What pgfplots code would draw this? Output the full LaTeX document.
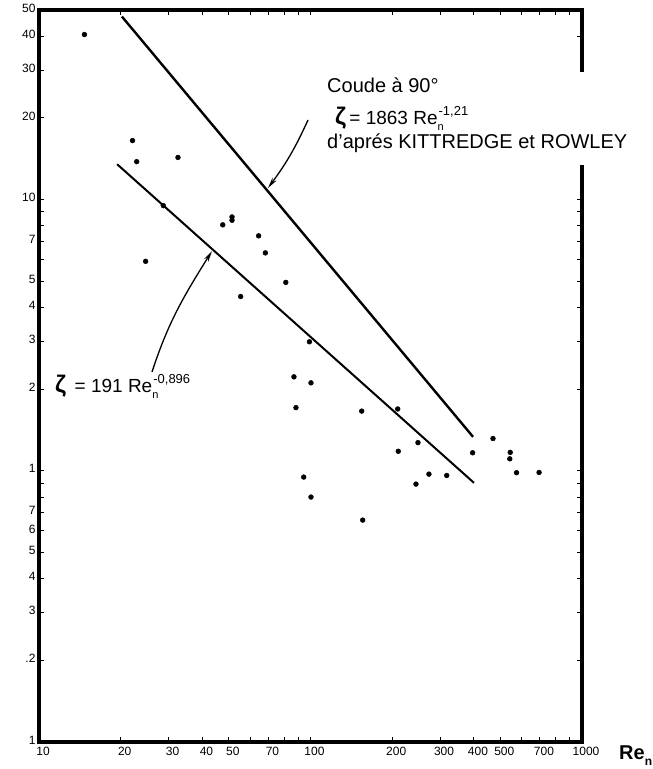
\documentclass[border=0pt]{standalone}
\usepackage{pgfplots}
\pgfplotsset{compat=1.18}
\usepackage{fontspec}
\setmainfont{Liberation Sans}
\usetikzlibrary{arrows.meta}
% Re with subscript n and an exponent
\newcommand\Ren[1]{Re\rlap{\raisebox{-0.3em}{\fontsize{11}{11}\selectfont n}}\raisebox{0.5em}{\fontsize{13}{13}\selectfont\kern1pt #1}}
\newcommand\zt{{\fontsize{24}{24}\selectfont\bfseries ζ}}

\begin{document}
\begin{tikzpicture}[x=1pt,y=1pt]
\path[use as bounding box] (-39,-27) rectangle (614,742);
\begin{axis}[at={(0,0)},anchor=south west,scale only axis,
  width=543pt,height=732pt,
  xmode=log,ymode=log,
  xmin=10,xmax=1000,ymin=0.1,ymax=50,
  tick style={line width=1pt,black},
  major tick length=5pt,
  tick label style={font=\fontsize{12}{12}\selectfont},
  /pgf/number format/assume math mode=true,
  xtick={10,20,30,40,50,60,70,80,90,100,200,300,400,500,600,700,800,900,1000},
  xticklabels={10,20,30,40,50,,70,,,100,200,300,400,500,,700,,,1000},
  ytick={0.1,0.2,0.3,0.4,0.5,0.6,0.7,0.8,0.9,1,2,3,4,5,6,7,8,9,10,20,30,40,50},
  yticklabels={1,.2,3,4,5,6,7,,,1,2,3,4,5,,7,,,10,20,30,40,50},
  minor tick num=0,
  xticklabel style={yshift=-2pt,xshift=4pt},
  yticklabel style={yshift=2pt},
  clip=false]
% measured points
\addplot[only marks,mark=*,mark size=2.4pt,line width=0.5pt,black] coordinates {
(14.7,40.6) (22.1,16.5) (22.9,13.8) (32.5,14.3) (28.7,9.5) (24.7,5.92)
(47.5,8.07) (51.4,8.63) (51.4,8.39) (55.3,4.39) (64.4,7.35) (68.2,6.36)
(81.1,4.95) (99.1,2.99) (86.9,2.22) (100.4,2.11) (88.4,1.71) (94.4,0.948)
(100.4,0.80) (154.4,1.66) (155.7,0.658) (209.5,1.69) (210.5,1.18)
(248.8,1.27) (244.6,0.893) (273,0.972) (317.5,0.961) (395.5,1.165)
(470,1.315) (544,1.169) (542,1.107) (574,0.984) (695,0.986)};
% Kittredge and Rowley
\addplot[line width=2.4pt,black] coordinates {(20.2,47.3) (397,1.334)};
% fitted line
\addplot[line width=2pt,black] coordinates {(19.4,13.5) (400,0.903)};
\end{axis}
% heavy frame, with a gap in the right side behind the label
\fill[white] (535,575) rectangle (553,672);
\draw[line width=3.2pt,line cap=rect] (543,672) -- (543,732) -- (0,732) -- (0,0) -- (543,0) -- (543,575);
\node[anchor=base west,inner sep=0pt,font=\fontsize{20}{20}\selectfont] at (288,649) {Coude à 90°};
\node[anchor=base west,inner sep=0pt,font=\fontsize{19}{19}\selectfont] at (296,617) {\zt\,= 1863 \Ren{-1,21}};
\node[anchor=base west,inner sep=0pt,font=\fontsize{20}{20}\selectfont] at (288,593) {d'aprés KITTREDGE et ROWLEY};
\node[anchor=base west,inner sep=0pt,font=\fontsize{19}{19}\selectfont] at (16,349) {\zt\, = 191 \Ren{-0,896}};
\node[anchor=base west,inner sep=0pt,font=\fontsize{20}{20}\selectfont\bfseries] at (580,-17) {Re\raisebox{-0.3em}{\fontsize{12}{12}\selectfont n}};
% arrows
\draw[line width=1.3pt,-{Stealth[length=11pt,width=5pt]}] (269,622) to[bend left=6] (229,554);
\draw[line width=1.3pt,-{Stealth[length=11pt,width=5pt]}] (113,370) to[out=72,in=238] (173,491);
\end{tikzpicture}
\end{document}
